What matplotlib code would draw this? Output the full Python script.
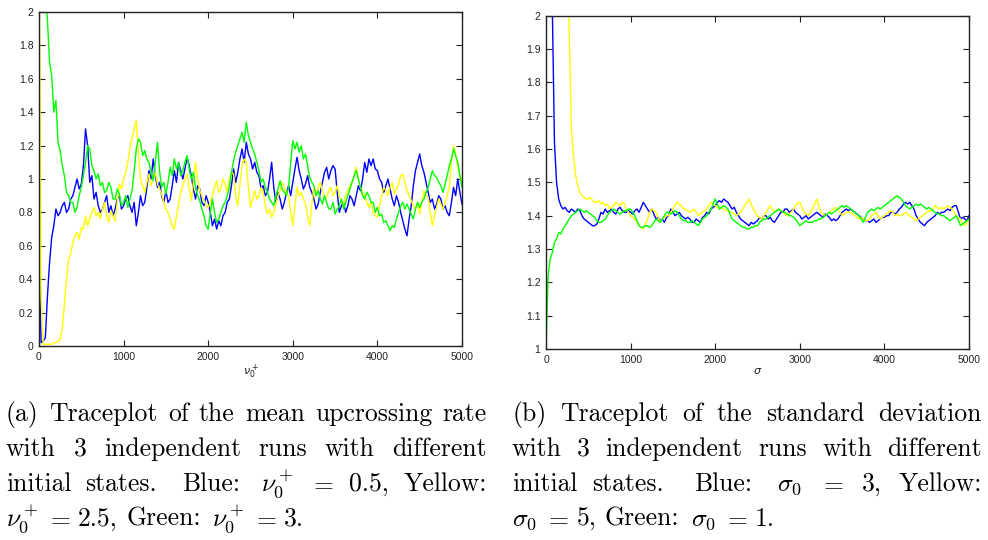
import numpy as np
import matplotlib
matplotlib.use('Agg')
import matplotlib.pyplot as plt
from matplotlib.ticker import FuncFormatter

plt.rcParams['font.family'] = ['Liberation Sans', 'DejaVu Sans']

# ---------------- data (every 25 iterations) ----------------
iterations = np.arange(0, 5001, 25)

nu_blue = [
    0.50, 0.02, 0.03, 0.05, 0.30, 0.50, 0.65, 0.72, 0.82, 0.78,
    0.80, 0.84, 0.86, 0.80, 0.82, 0.88, 0.90, 0.95, 1.00, 0.94,
    0.97, 1.08, 1.30, 1.20, 0.98, 1.02, 0.88, 0.92, 0.84, 0.80,
    0.82, 0.86, 0.90, 0.80, 0.84, 0.78, 0.82, 0.88, 0.90, 0.82,
    0.84, 0.88, 0.90, 0.84, 0.80, 0.86, 0.72, 0.80, 0.90, 0.84,
    0.86, 0.95, 1.05, 1.00, 1.12, 1.02, 0.95, 0.98, 0.90, 0.86,
    0.93, 0.86, 0.88, 0.96, 1.05, 0.98, 1.10, 1.05, 1.00, 1.06,
    1.13, 1.08, 1.02, 0.94, 0.88, 0.96, 0.94, 0.86, 0.84, 0.90,
    0.86, 0.80, 0.72, 0.76, 0.70, 0.75, 0.72, 0.78, 0.80, 0.86,
    0.88, 0.96, 1.06, 0.98, 1.04, 1.12, 1.18, 1.10, 1.22, 1.15,
    1.12, 1.06, 1.10, 1.04, 1.02, 0.94, 0.96, 0.90, 0.92, 1.00,
    1.10, 0.95, 0.86, 0.92, 0.88, 0.82, 0.86, 0.92, 0.96, 0.90,
    0.98, 1.06, 1.13, 1.05, 1.00, 0.94, 0.97, 1.02, 0.95, 0.92,
    0.88, 0.82, 0.85, 0.92, 0.98, 1.04, 1.07, 1.00, 1.05, 1.08,
    1.06, 0.92, 0.80, 0.84, 0.86, 0.80, 0.84, 0.90, 0.88, 0.84,
    0.90, 0.96, 0.93, 1.00, 1.10, 1.04, 1.12, 1.08, 1.12, 1.06,
    1.05, 1.00, 0.98, 0.92, 0.96, 1.00, 0.94, 0.88, 0.84, 0.90,
    0.86, 0.80, 0.75, 0.70, 0.66, 0.76, 0.84, 0.96, 1.05, 1.10,
    1.15, 1.08, 1.04, 0.98, 0.92, 0.86, 0.88, 0.82, 0.85, 0.90,
    0.88, 0.82, 0.84, 0.80, 0.78, 0.86, 0.95, 0.90, 1.00, 0.92,
    0.85]

nu_yellow = [
    2.50, 0.30, 0.01, 0.01, 0.01, 0.01, 0.01, 0.02, 0.02, 0.03,
    0.04, 0.10, 0.25, 0.40, 0.52, 0.55, 0.62, 0.66, 0.68, 0.64,
    0.71, 0.70, 0.78, 0.72, 0.76, 0.80, 0.83, 0.78, 0.80, 0.76,
    0.82, 0.86, 0.78, 0.74, 0.81, 0.78, 0.75, 0.86, 0.97, 0.94,
    1.00, 1.04, 1.10, 1.18, 1.25, 1.30, 1.35, 1.15, 1.00, 0.96,
    0.92, 0.98, 1.03, 0.96, 1.00, 1.04, 0.97, 0.94, 0.91, 0.86,
    0.82, 0.80, 0.76, 0.72, 0.70, 0.78, 0.85, 0.92, 0.96, 1.00,
    1.03, 0.95, 0.87, 0.98, 1.10, 1.00, 0.93, 0.90, 0.87, 0.84,
    0.83, 0.86, 0.90, 0.95, 0.99, 0.92, 0.94, 1.00, 0.97, 0.92,
    1.00, 1.04, 1.03, 0.90, 0.84, 0.96, 1.08, 1.12, 1.10, 0.95,
    0.83, 0.88, 0.93, 0.88, 0.90, 0.95, 0.92, 0.84, 0.79, 0.82,
    0.77, 0.80, 0.85, 0.90, 0.93, 0.98, 0.95, 0.92, 0.90, 0.80,
    0.72, 0.84, 0.95, 0.90, 0.92, 0.88, 0.85, 0.78, 0.72, 0.85,
    0.95, 0.90, 0.95, 0.98, 0.93, 0.88, 0.89, 0.93, 0.95, 0.90,
    0.92, 0.96, 0.90, 0.86, 0.85, 0.90, 0.93, 0.96, 0.98, 1.02,
    1.07, 1.00, 0.95, 0.92, 0.90, 0.86, 0.83, 0.86, 0.80, 0.78,
    0.77, 0.84, 0.90, 0.95, 0.93, 0.90, 0.95, 0.98, 0.91, 0.94,
    0.97, 1.02, 1.03, 0.98, 0.93, 0.90, 0.87, 0.84, 0.82, 0.86,
    0.79, 0.86, 0.93, 0.90, 0.89, 0.80, 0.72, 0.78, 0.83, 0.88,
    0.85, 0.82, 0.86, 0.90, 0.95, 1.10, 1.20, 1.15, 1.07, 1.02,
    0.99]

nu_green = [
    3.00, 2.70, 2.40, 2.15, 1.95, 1.70, 1.62, 1.40, 1.47, 1.22,
    1.17, 1.08, 1.02, 0.92, 0.90, 0.86, 0.86, 0.80, 0.83, 0.90,
    0.95, 1.02, 1.10, 1.20, 1.18, 1.08, 1.05, 1.00, 1.03, 0.96,
    0.98, 0.92, 0.93, 0.98, 0.95, 0.88, 0.88, 0.94, 0.91, 0.84,
    0.86, 0.90, 0.83, 0.88, 0.93, 1.05, 1.18, 1.24, 1.22, 1.14,
    1.17, 1.12, 1.10, 1.04, 0.99, 1.10, 1.22, 1.05, 0.95, 0.98,
    0.91, 0.98, 1.07, 1.02, 1.12, 1.06, 1.10, 1.02, 1.05, 1.10,
    1.14, 1.06, 1.00, 1.04, 0.95, 0.90, 0.87, 0.82, 0.78, 0.72,
    0.70, 0.80, 0.88, 0.80, 0.74, 0.76, 0.80, 0.84, 0.86, 0.90,
    0.95, 1.04, 1.11, 1.16, 1.20, 1.24, 1.28, 1.22, 1.34, 1.26,
    1.22, 1.18, 1.15, 1.10, 1.05, 0.98, 1.00, 0.95, 0.92, 0.88,
    0.86, 0.84, 0.90, 0.94, 0.99, 0.94, 0.92, 0.90, 0.95, 1.10,
    1.23, 1.18, 1.22, 1.16, 1.20, 1.12, 1.15, 1.08, 1.01, 0.98,
    0.96, 0.90, 0.93, 0.88, 0.85, 0.90, 0.86, 0.82, 0.82, 0.86,
    0.79, 0.82, 0.84, 0.88, 0.82, 0.86, 0.90, 0.94, 0.98, 1.02,
    1.05, 1.00, 0.95, 0.90, 0.88, 0.92, 0.90, 0.86, 0.86, 0.80,
    0.83, 0.78, 0.79, 0.74, 0.75, 0.72, 0.69, 0.72, 0.71, 0.76,
    0.80, 0.84, 0.86, 0.82, 0.85, 0.82, 0.79, 0.76, 0.82, 0.86,
    0.83, 0.86, 0.88, 0.92, 0.95, 1.00, 1.05, 1.02, 1.01, 0.98,
    0.96, 0.92, 0.97, 1.02, 1.08, 1.12, 1.18, 1.14, 1.10, 1.02,
    0.95]

sigma_blue = [
    3.00, 2.75, 2.50, 2.02, 1.62, 1.50, 1.45, 1.43, 1.42, 1.425,
    1.415, 1.41, 1.42, 1.415, 1.41, 1.42, 1.415, 1.40, 1.39, 1.385,
    1.38, 1.375, 1.37, 1.37, 1.375, 1.39, 1.41, 1.405, 1.42, 1.41,
    1.415, 1.42, 1.41, 1.405, 1.42, 1.425, 1.415, 1.41, 1.41, 1.415,
    1.41, 1.405, 1.415, 1.42, 1.41, 1.425, 1.44, 1.43, 1.42, 1.41,
    1.42, 1.405, 1.39, 1.395, 1.385, 1.39, 1.38, 1.395, 1.40, 1.42,
    1.41, 1.40, 1.405, 1.41, 1.40, 1.395, 1.39, 1.395, 1.39, 1.38,
    1.38, 1.39, 1.385, 1.38, 1.395, 1.40, 1.41, 1.405, 1.42, 1.425,
    1.43, 1.44, 1.445, 1.44, 1.45, 1.445, 1.44, 1.43, 1.42, 1.425,
    1.41, 1.40, 1.39, 1.385, 1.38, 1.375, 1.37, 1.38, 1.375, 1.38,
    1.385, 1.395, 1.39, 1.40, 1.40, 1.39, 1.395, 1.385, 1.38, 1.39,
    1.40, 1.41, 1.41, 1.42, 1.42, 1.41, 1.415, 1.42, 1.41, 1.405,
    1.40, 1.39, 1.395, 1.40, 1.39, 1.395, 1.40, 1.405, 1.41, 1.405,
    1.40, 1.395, 1.405, 1.40, 1.395, 1.385, 1.39, 1.385, 1.39, 1.40,
    1.41, 1.415, 1.42, 1.415, 1.42, 1.415, 1.41, 1.405, 1.40, 1.395,
    1.39, 1.385, 1.385, 1.38, 1.385, 1.39, 1.38, 1.385, 1.39, 1.395,
    1.395, 1.40, 1.40, 1.41, 1.41, 1.405, 1.41, 1.42, 1.425, 1.435,
    1.44, 1.435, 1.44, 1.43, 1.42, 1.40, 1.39, 1.38, 1.375, 1.37,
    1.38, 1.385, 1.39, 1.395, 1.40, 1.41, 1.405, 1.41, 1.41, 1.415,
    1.42, 1.415, 1.425, 1.43, 1.43, 1.41, 1.39, 1.395, 1.39, 1.385,
    1.40]

sigma_yellow = [
    5.00, 4.70, 4.40, 4.10, 3.80, 3.50, 3.20, 2.90, 2.60, 2.40,
    2.15, 1.95, 1.66, 1.58, 1.52, 1.49, 1.47, 1.46, 1.455, 1.45,
    1.45, 1.455, 1.445, 1.44, 1.44, 1.445, 1.435, 1.44, 1.43, 1.435,
    1.42, 1.425, 1.43, 1.44, 1.435, 1.43, 1.44, 1.435, 1.42, 1.41,
    1.40, 1.395, 1.39, 1.38, 1.37, 1.365, 1.36, 1.375, 1.39, 1.41,
    1.42, 1.415, 1.41, 1.395, 1.38, 1.39, 1.395, 1.40, 1.40, 1.41,
    1.42, 1.43, 1.44, 1.435, 1.43, 1.42, 1.42, 1.415, 1.41, 1.415,
    1.42, 1.41, 1.40, 1.405, 1.41, 1.415, 1.42, 1.43, 1.44, 1.435,
    1.43, 1.425, 1.42, 1.425, 1.42, 1.415, 1.415, 1.41, 1.41, 1.405,
    1.40, 1.405, 1.41, 1.42, 1.43, 1.44, 1.45, 1.435, 1.42, 1.41,
    1.40, 1.395, 1.39, 1.40, 1.41, 1.42, 1.43, 1.42, 1.41, 1.415,
    1.42, 1.415, 1.41, 1.405, 1.40, 1.405, 1.41, 1.42, 1.43, 1.44,
    1.44, 1.425, 1.41, 1.405, 1.40, 1.41, 1.42, 1.435, 1.45, 1.43,
    1.41, 1.405, 1.40, 1.405, 1.41, 1.415, 1.42, 1.425, 1.42, 1.41,
    1.40, 1.405, 1.41, 1.41, 1.41, 1.405, 1.40, 1.395, 1.39, 1.395,
    1.39, 1.385, 1.385, 1.39, 1.40, 1.405, 1.41, 1.40, 1.39, 1.395,
    1.40, 1.405, 1.41, 1.415, 1.41, 1.40, 1.405, 1.40, 1.40, 1.405,
    1.41, 1.405, 1.40, 1.395, 1.39, 1.385, 1.39, 1.395, 1.40, 1.405,
    1.41, 1.415, 1.415, 1.42, 1.43, 1.425, 1.42, 1.425, 1.42, 1.425,
    1.43, 1.425, 1.42, 1.41, 1.40, 1.395, 1.39, 1.375, 1.37, 1.38,
    1.39]

sigma_green = [
    1.00, 1.22, 1.27, 1.29, 1.32, 1.33, 1.35, 1.345, 1.36, 1.37,
    1.38, 1.39, 1.40, 1.405, 1.41, 1.415, 1.42, 1.415, 1.41, 1.415,
    1.41, 1.405, 1.40, 1.395, 1.385, 1.38, 1.38, 1.385, 1.39, 1.40,
    1.41, 1.415, 1.42, 1.415, 1.41, 1.405, 1.41, 1.415, 1.415, 1.42,
    1.42, 1.41, 1.40, 1.385, 1.37, 1.365, 1.365, 1.37, 1.37, 1.365,
    1.37, 1.38, 1.39, 1.385, 1.38, 1.39, 1.40, 1.41, 1.41, 1.405,
    1.41, 1.415, 1.41, 1.40, 1.39, 1.385, 1.385, 1.38, 1.38, 1.385,
    1.38, 1.375, 1.37, 1.38, 1.39, 1.395, 1.40, 1.41, 1.42, 1.435,
    1.45, 1.435, 1.42, 1.425, 1.43, 1.425, 1.42, 1.405, 1.39, 1.385,
    1.38, 1.375, 1.37, 1.365, 1.365, 1.36, 1.36, 1.365, 1.365, 1.37,
    1.37, 1.38, 1.385, 1.39, 1.39, 1.395, 1.40, 1.405, 1.41, 1.415,
    1.42, 1.415, 1.41, 1.41, 1.405, 1.40, 1.40, 1.395, 1.39, 1.38,
    1.37, 1.375, 1.38, 1.385, 1.38, 1.38, 1.38, 1.385, 1.385, 1.39,
    1.39, 1.395, 1.40, 1.405, 1.41, 1.405, 1.41, 1.415, 1.42, 1.425,
    1.43, 1.425, 1.43, 1.425, 1.42, 1.415, 1.41, 1.405, 1.40, 1.39,
    1.38, 1.395, 1.41, 1.415, 1.42, 1.415, 1.42, 1.425, 1.42, 1.425,
    1.43, 1.435, 1.44, 1.445, 1.45, 1.455, 1.46, 1.455, 1.45, 1.44,
    1.43, 1.425, 1.42, 1.425, 1.43, 1.435, 1.43, 1.435, 1.43, 1.425,
    1.42, 1.425, 1.42, 1.415, 1.41, 1.405, 1.405, 1.40, 1.40, 1.395,
    1.39, 1.385, 1.39, 1.395, 1.40, 1.385, 1.37, 1.375, 1.38, 1.385,
    1.39]

left_yticks = [0, 0.2, 0.4, 0.6, 0.8, 1.0, 1.2, 1.4, 1.6, 1.8, 2.0]
right_yticks = [1.0, 1.1, 1.2, 1.3, 1.4, 1.5, 1.6, 1.7, 1.8, 1.9, 2.0]
xticks = [0, 1000, 2000, 3000, 4000, 5000]

caption_a = [
    ["(a)", "Traceplot", "of", "the", "mean", "upcrossing", "rate"],
    ["with", "3", "independent", "runs", "with", "different"],
    ["initial", "states.", "Blue:", r"$\nu_0^+$", r"$=$", "0.5,", "Yellow:"],
    [r"$\nu_0^+$", r"$=$", "2.5,", "Green:", r"$\nu_0^+$", r"$=$", "3."],
]
caption_b = [
    ["(b)", "Traceplot", "of", "the", "standard", "deviation"],
    ["with", "3", "independent", "runs", "with", "different"],
    ["initial", "states.", "Blue:", r"$\sigma_0$", r"$=$", "3,", "Yellow:"],
    [r"$\sigma_0$", r"$=$", "5,", "Green:", r"$\sigma_0$", r"$=$", "1."],
]

# ---------------- figure ----------------
W, H = 988, 540
fig = plt.figure(figsize=(W / 100, H / 100), dpi=100)


def axes_px(l, t, r, b):
    return fig.add_axes([l / W, 1 - b / H, (r - l) / W, (b - t) / H])


axL = axes_px(39, 12, 462, 346)
axR = axes_px(546, 15.7, 969, 349)

BLUE, YELLOW, GREEN = '#0000ff', '#ffff00', '#00ff00'

for ax, series, yt, xlab in (
        (axL, (nu_blue, nu_yellow, nu_green), left_yticks, r'$\nu_0^+$'),
        (axR, (sigma_blue, sigma_yellow, sigma_green), right_yticks, r'$\sigma$')):
    for vals, col in zip(series, (BLUE, YELLOW, GREEN)):
        ax.plot(iterations, vals, color=col, lw=1.0)
    ax.set_xlim(0, 5000)
    ax.set_ylim(yt[0], yt[-1])
    ax.set_xticks(xticks)
    ax.set_yticks(yt)
    fmt = FuncFormatter(lambda v, p: f'{v:g}')
    ax.xaxis.set_major_formatter(fmt)
    ax.yaxis.set_major_formatter(fmt)
    ax.tick_params(direction='in', top=True, right=True, length=4, width=0.8,
                   labelsize=7.5, pad=4, colors='#222222', labelcolor='#222222')
    for s in ax.spines.values():
        s.set_linewidth(1.0)
        s.set_color('#222222')
    ax.set_xlabel(xlab, fontsize=8, labelpad=1, math_fontfamily='dejavusans',
                  color='#222222')

# ---------------- captions (justified like LaTeX) ----------------
CAP = 18.5  # pt
E = CAP * 100 / 72.0
fig.canvas.draw()
renderer = fig.canvas.get_renderer()

GAPS = {'n': (0.333, 0.167), 'p': (0.444, 0.5), 'c': (0.444, 0.333),
        'm': (0.278, 0.278), ',': (0.333, 0.208)}


def gap_kind(prev, nxt):
    if prev.startswith('$') or nxt == r'$=$':
        return 'm'
    if prev.endswith('.'):
        return 'p'
    if prev.endswith(':'):
        return 'c'
    if prev.endswith(','):
        return ','
    return 'n'


def mk(x, y, s):
    return fig.text(x / W, 1 - y / H, s, fontsize=CAP, family='cmr10',
                    math_fontfamily='cm', va='baseline', ha='left', color='black')


def place(line, x0, x1, y, justify=True):
    texts = [mk(0, y, w) for w in line]
    widths = [t.get_window_extent(renderer).width for t in texts]
    kinds = [gap_kind(line[i], line[i + 1]) for i in range(len(line) - 1)]
    nat = sum(widths) + sum(GAPS[k][0] * E for k in kinds)
    st = sum(GAPS[k][1] * E for k in kinds)
    kf = (x1 - x0 - nat) / st if justify else 0.0
    x = x0
    for i, t in enumerate(texts):
        t.set_x(x / W)
        if i < len(kinds):
            g = GAPS[kinds[i]]
            x += widths[i] + E * (g[0] + g[1] * kf)


baselines = [421, 456, 491, 526]
for cap, x0, x1 in ((caption_a, 6, 487), (caption_b, 512, 982)):
    for i, (line, y) in enumerate(zip(cap, baselines)):
        place(line, x0, x1, y, justify=(i < 3))

fig.savefig('out.png', dpi=100)
